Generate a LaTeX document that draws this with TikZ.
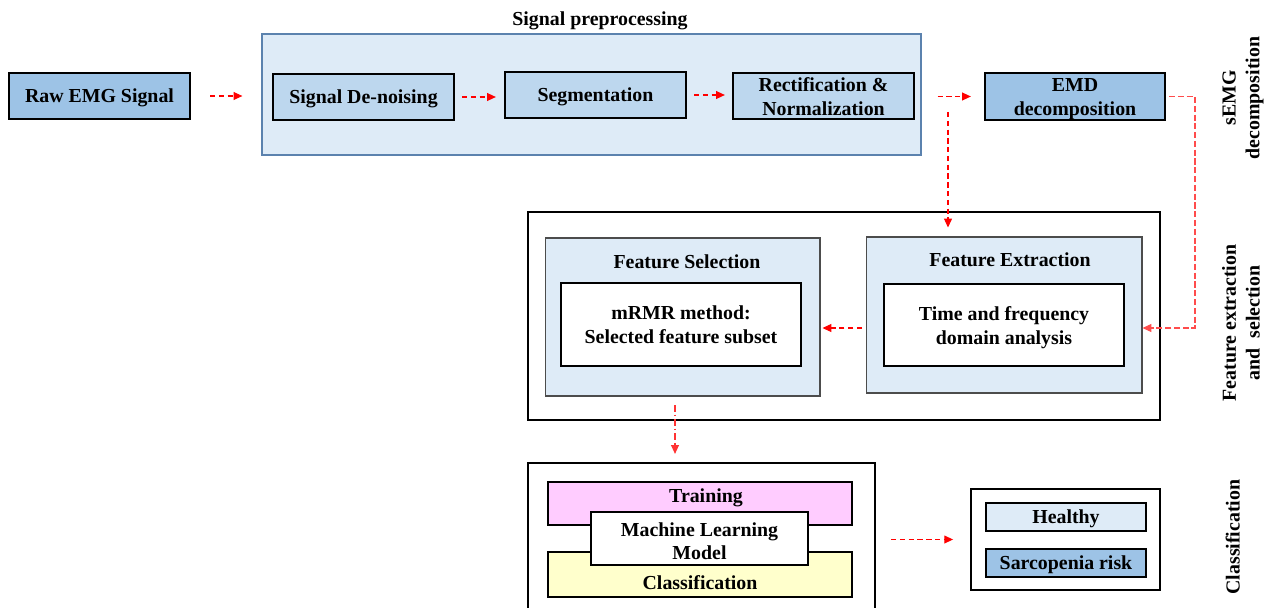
\documentclass[tikz,border=0pt]{standalone}
\usepackage{fontspec}
\setmainfont{Liberation Serif}
\usetikzlibrary{arrows.meta}
\definecolor{boxA}{HTML}{9DC3E6}
\definecolor{boxB}{HTML}{BDD7EE}
\definecolor{boxC}{HTML}{DEEBF7}
\definecolor{frameblue}{HTML}{5B82AE}
\definecolor{pinkfill}{HTML}{FFCCFF}
\definecolor{yellowfill}{HTML}{FFFFCC}
\newcommand\mystrut{\rule[-0.22em]{0pt}{1.11em}}
\tikzset{
  every node/.style={font=\fontsize{11.3pt}{13.5pt}\selectfont\bfseries, align=center, inner sep=0pt,
    execute at begin node=\mystrut, execute at end node=\mystrut},
  stepbox/.style={draw=black, line width=1.3pt},
  panel/.style={draw=black!70, line width=0.6pt, fill=boxC},
  whitebox/.style={draw=black, line width=0.8pt, fill=white},
  flow/.style={red, densely dashed, line width=0.6pt, -{Triangle[length=5pt,width=4.5pt]}},
  sidelabel/.style={rotate=90},
}
\begin{document}
\begin{tikzpicture}[x=0.02cm, y=-0.02cm]
\clip (0,0) rectangle (1271,608);
\useasboundingbox (0,0) rectangle (1271,608);
% preprocessing
\node (pretitle) at (600,19) {Signal preprocessing};
\node[draw=frameblue, line width=0.8pt, fill=boxC, minimum width=13.18cm, minimum height=2.42cm] (pre) at (591.5,94.5) {};
\node[stepbox, fill=boxA, minimum width=3.62cm, minimum height=0.92cm] (raw) at (99.5,96) {Raw EMG Signal};
\node[stepbox, fill=boxB, minimum width=3.62cm, minimum height=0.92cm] (den) at (363.5,97) {Signal De-noising};
\node[stepbox, fill=boxB, minimum width=3.62cm, minimum height=0.92cm] (seg) at (595.5,95) {Segmentation};
\node[stepbox, fill=boxB, minimum width=3.62cm, minimum height=0.92cm,
  label={[yshift=-1.7pt]center:{Rectification \&\\Normalization}}] (rect) at (823.5,96) {};
\node[stepbox, fill=boxA, minimum width=3.6cm, minimum height=0.94cm,
  label={[yshift=-1.7pt]center:{EMD\\decomposition}}] (emd) at (1075,96.5) {};
% feature extraction / selection
\node[stepbox, fill=white, minimum width=12.64cm, minimum height=4.16cm] (feat) at (844,316) {};
\node[panel, minimum width=5.5cm, minimum height=3.16cm] (fsel) at (682.5,317) {};
\node (fseltitle) at (687,262) {Feature Selection};
\node[whitebox, minimum width=4.8cm, minimum height=1.66cm,
  label={[yshift=-1.4pt]center:{mRMR method:\\Selected feature subset}}] (fselin) at (681,324.5) {};
\node[panel, minimum width=5.52cm, minimum height=3.12cm] (fext) at (1004,315) {};
\node (fexttitle) at (1010,260) {Feature Extraction};
\node[whitebox, minimum width=4.8cm, minimum height=1.64cm,
  label={[yshift=-1.4pt]center:{Time and frequency\\domain analysis}}] (fextin) at (1004,325) {};
% classification
\node[stepbox, fill=white, minimum width=6.94cm, minimum height=3.14cm] (cls) at (701.5,541.5) {};
\node[draw=black, line width=1.1pt, fill=pinkfill, minimum width=6.08cm, minimum height=0.86cm] (train) at (700,503.5) {};
\node (traintext) at (706,496) {Training};
\node[draw=black, line width=1.1pt, fill=yellowfill, minimum width=6.08cm, minimum height=0.9cm] (clsbox) at (700,574.5) {};
\node (clstext) at (700,583) {Classification};
\node[whitebox, line width=1.1pt, minimum width=4.34cm, minimum height=1.06cm,
  label={[yshift=-2.8pt]center:{Machine Learning\\Model}}] (ml) at (699.5,538.5) {};
\node[draw=black, line width=1.1pt, fill=white, minimum width=3.78cm, minimum height=2.02cm] (res) at (1065.5,539.5) {};
\node[draw=black, line width=1.1pt, fill=boxC, minimum width=3.2cm, minimum height=0.56cm] (healthy) at (1066,517) {Healthy};
\node[draw=black, line width=1.1pt, fill=boxA, minimum width=3.2cm, minimum height=0.56cm] (sarc) at (1066,563) {Sarcopenia risk};
% side labels
\node[sidelabel] (lab1) at (1243,98) {sEMG\\decomposition};
\node[sidelabel] (lab2) at (1243,323) {Feature extraction\\and \ selection};
\node[sidelabel] (lab3) at (1233,537) {Classification};
% connectors
\draw[flow, shorten <=0.38cm, shorten >=0.38cm] (raw.east) -- (pre.west |- raw.east);
\draw[flow, shorten <=0.14cm, shorten >=0.16cm] (den.east) -- (seg.west |- den.east);
\draw[flow, shorten <=0.14cm, shorten >=0.14cm] (seg.east) -- (rect.west |- seg.east);
\draw[flow, shorten <=0.32cm, shorten >=0.26cm] (pre.east |- emd.west) -- (emd.west);
\coordinate (c1) at (948,112);
\draw[flow, shorten >=0.18cm] (c1) -- (fext.north -| c1);
\coordinate (c2) at (1195,328);
\draw[flow, red!70, dash pattern=on 3.5pt off 1.5pt, shorten <=0.06cm] (emd.east) -| (c2) -- (fext.east |- c2);
\coordinate (c3) at (862,328);
\draw[flow, shorten >=0.04cm] (c3) -- (fsel.east |- c3);
\coordinate (c4) at (675,405);
\draw[flow, red!80, dash pattern=on 4pt off 1.5pt on 1pt off 1.5pt, shorten >=0.16cm] (c4) -- (cls.north -| c4);
\draw[flow, shorten <=0.3cm, shorten >=0.34cm] (cls.east |- res.west) -- (res.west);
\end{tikzpicture}
\end{document}
